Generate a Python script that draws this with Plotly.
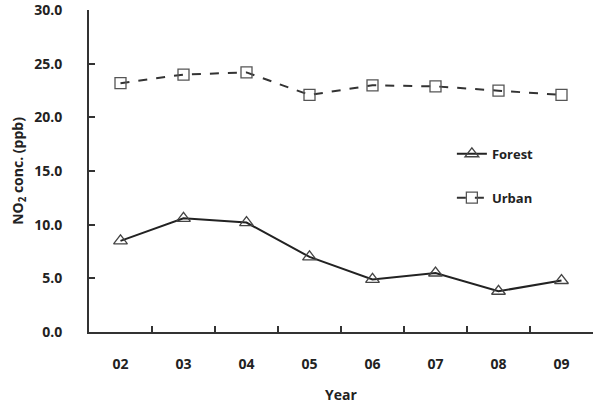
import plotly.graph_objects as go

years = ["02", "03", "04", "05", "06", "07", "08", "09"]
forest = [8.5, 10.6, 10.2, 7.0, 4.9, 5.5, 3.8, 4.8]
urban = [23.2, 24.0, 24.2, 22.1, 23.0, 22.9, 22.5, 22.1]
y_ticks = [0, 5, 10, 15, 20, 25, 30]
y_labels = ["0.0", "5.0", "10.0", "15.0", "20.0", "25.0", "30.0"]

font_family = "Open Sans, Noto Sans, sans-serif"

fig = go.Figure()
fig.add_trace(go.Scatter(
    x=years, y=forest, name="Forest", mode="lines+markers",
    line=dict(color="#222222", width=2),
    marker=dict(symbol="triangle-up-open", size=12, color="#444444", line=dict(width=1.3)),
    legendgroup="f",
))
fig.add_trace(go.Scatter(
    x=years, y=urban, name="Urban", mode="lines+markers",
    line=dict(color="#333333", width=2, dash="dash"),
    marker=dict(symbol="square-open", size=11, color="#555555", line=dict(width=1.3)),
    legendgroup="u",
))

fig.update_layout(
    width=601, height=404,
    margin=dict(l=89, r=8, t=10, b=72),
    plot_bgcolor="white", paper_bgcolor="white",
    font=dict(family=font_family, color="#222222", size=14),
    showlegend=True,
    legend=dict(x=0.72, y=0.6, xanchor="left", yanchor="top",
                traceorder="grouped", tracegroupgap=24,
                font=dict(size=13, weight="bold", color="#222222"),
                bgcolor="rgba(0,0,0,0)"),
    xaxis=dict(
        type="category", showline=True, linecolor="#333333", linewidth=2,
        ticks="inside", tickson="boundaries", ticklen=6, tickcolor="#333333", tickwidth=2,
        showgrid=False, zeroline=False, automargin=False,
        tickfont=dict(size=14, weight="bold"),
        ticklabelstandoff=18,
        title=dict(text="Year", font=dict(size=14, weight="bold"), standoff=20),
        range=[-0.5, 7.5],
    ),
    yaxis=dict(
        range=[0, 30.02], tickvals=y_ticks, ticktext=y_labels,
        showline=True, linecolor="#333333", linewidth=2,
        ticks="inside", ticklen=6, tickcolor="#333333", tickwidth=2,
        showgrid=False, zeroline=False, automargin=False,
        ticklabeloverflow="allow",
        tickfont=dict(size=14, weight="bold"),
        ticklabelstandoff=22,
        title=dict(text="NO<sub>2</sub> conc. (ppb)", font=dict(size=14, weight="bold"), standoff=7),
    ),
)

fig.write_html("out.html")
